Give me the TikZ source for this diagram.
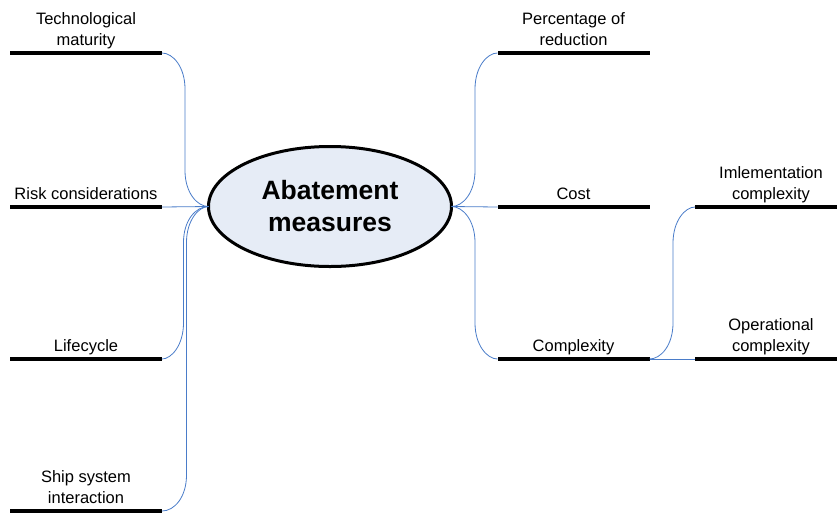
\documentclass[tikz,border=0pt]{standalone}
\usepackage{fontspec}
\setmainfont{Liberation Sans}
\usetikzlibrary{shapes.geometric,calc}
\definecolor{conncol}{HTML}{4A7CC9}
\definecolor{ellfill}{HTML}{E6ECF6}
\newcommand{\elbowconn}[3]{%
  \path (#1 -| #3) coordinate (v1) (#2 -| #3) coordinate (v2);
  \draw[conn] (#1) .. controls ($(v1)!12pt!(#1)$) and ($(v1)!14pt!(v2)$) .. ($(v1)!36pt!(v2)$)
    -- ($(v2)!36pt!(v1)$) .. controls ($(v2)!14pt!(v1)$) and ($(v2)!12pt!(#2)$) .. (#2);}
\begin{document}
\begin{tikzpicture}[x=1pt,y=-1pt,
  conn/.style={draw=conncol, line width=0.8pt},
  bar/.style={fill=black, minimum width=152pt, minimum height=4pt, inner sep=0pt, outer sep=0pt},
  lbl/.style={anchor=south, inner sep=0pt, align=center, yshift=-1pt, font=\fontsize{16.5}{21}\selectfont},
  hub/.style={ellipse, draw, line width=3pt, fill=ellfill, minimum width=243pt, minimum height=120pt,
    inner sep=0pt, outer sep=0pt, align=center, font=\fontsize{26.5}{32}\selectfont\bfseries}]
\useasboundingbox (0,0) rectangle (837,512);
\node[hub] (c) at (330,206.5) {Abatement\\measures};
% bars
\node[bar] (tmb) at (86,53) {};
\node[bar] (rkb) at (86,207) {};
\node[bar] (lcb) at (86,359) {};
\node[bar] (ssb) at (86,511) {};
\node[bar] (prb) at (573.5,53) {};
\node[bar] (cob) at (573.5,207) {};
\node[bar] (cxb) at (573.5,359) {};
\node[bar] (imb) at (771,207) {};
\node[bar] (opb) at (771,359) {};
% labels
\node[lbl] (tml) at (tmb.north) {\strut Technological\\\strut maturity};
\node[lbl] (rkl) at (rkb.north) {\strut Risk considerations};
\node[lbl] (lcl) at (lcb.north) {\strut Lifecycle};
\node[lbl] (ssl) at (ssb.north) {\strut Ship system\\\strut interaction};
\node[lbl] (prl) at (prb.north) {\strut Percentage of\\\strut reduction};
\node[lbl] (col) at (cob.north) {\strut Cost};
\node[lbl] (cxl) at (cxb.north) {\strut Complexity};
\node[lbl] (iml) at (imb.north) {\strut Imlementation\\\strut complexity};
\node[lbl] (opl) at (opb.north) {\strut Operational\\\strut complexity};
% vertical guide x positions
\coordinate (lx1) at (185,0);
\coordinate (lx2) at (183.5,0);
\coordinate (lx3) at (186.5,0);
\coordinate (rx) at (475,0);
\coordinate (sx) at (673,0);
% connectors
\elbowconn{tmb.east}{c.west}{lx1}
\draw[conn] (rkb.east) -- (c.west);
\elbowconn{lcb.east}{c.west}{lx2}
\elbowconn{ssb.east}{c.west}{lx3}
\elbowconn{c.east}{prb.west}{rx}
\draw[conn] (c.east) -- (cob.west);
\elbowconn{c.east}{cxb.west}{rx}
\elbowconn{cxb.east}{imb.west}{sx}
\draw[conn] (cxb.east) -- (opb.west);
\end{tikzpicture}
\end{document}
